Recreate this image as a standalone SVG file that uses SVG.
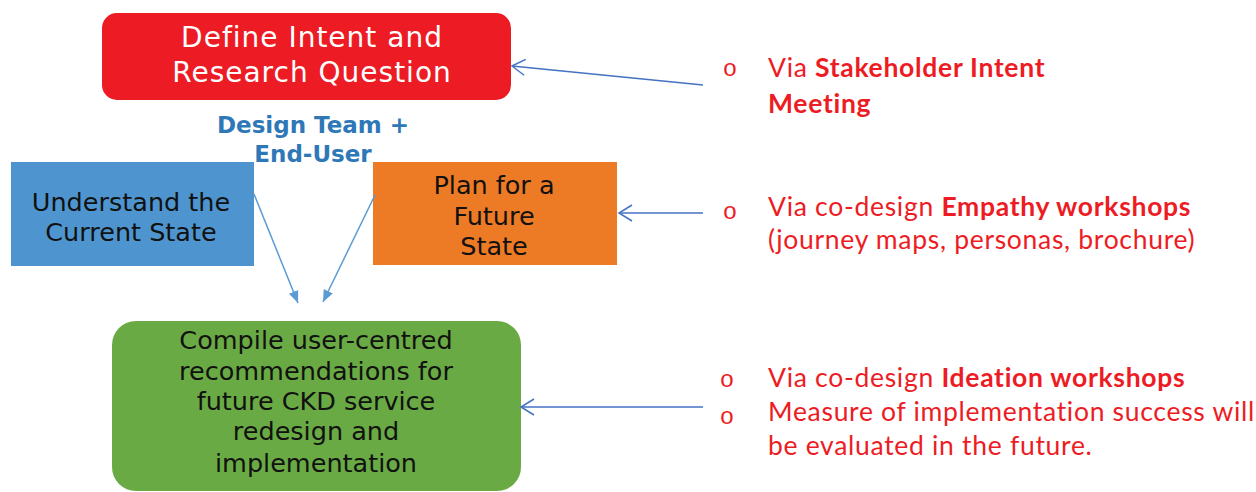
<svg xmlns="http://www.w3.org/2000/svg" width="1256" height="492" viewBox="0 0 1256 492">
  <style>
    .box-label { font-family: "DejaVu Sans", Verdana, sans-serif; font-size: 25.5px; fill: #111111; text-anchor: middle; }
    .title-label { font-family: "DejaVu Sans", Verdana, sans-serif; font-size: 28px; letter-spacing: 1px; fill: #ffffff; text-anchor: middle; }
    .team { font-family: "DejaVu Sans", Verdana, sans-serif; font-size: 23px; font-weight: bold; fill: #2f78b8; text-anchor: middle; }
    .note { font-family: Lato, "Open Sans", sans-serif; font-size: 26.5px; letter-spacing: 0.7px; fill: #ed1c24; }
    .b { font-weight: bold; }
    .bullet { font-family: "Liberation Mono", monospace; font-size: 24px; fill: #ed1c24; text-anchor: middle; }
    .flow { stroke: #5b9bd5; stroke-width: 1.5; fill: none; }
    .feed { stroke: #4472c4; stroke-width: 1.5; fill: none; }
  </style>
  <defs>
    <!-- solid head for the flow into the compile step -->
    <marker id="tri" markerUnits="userSpaceOnUse" viewBox="0 0 12 10" refX="12" refY="5" markerWidth="12" markerHeight="10" orient="auto">
      <path d="M0,0 L12,5 L0,10 z" fill="#5b9bd5"/>
    </marker>
    <!-- open chevron head for the method notes -->
    <marker id="chev" markerUnits="userSpaceOnUse" viewBox="-1 -1 16 18" refX="13" refY="8" markerWidth="16" markerHeight="18" orient="auto" overflow="visible">
      <path d="M0,0 L13,8 L0,16" fill="none" stroke="#4472c4" stroke-width="1.5"/>
    </marker>
  </defs>

  <g id="node-define">
    <rect x="102" y="13" width="409" height="87" rx="15" fill="#ed1c24"/>
    <text class="title-label" x="312" y="47">Define Intent and</text>
    <text class="title-label" x="312" y="82">Research Question</text>
  </g>

  <g id="node-team">
    <text class="team" x="313" y="133">Design Team +</text>
    <text class="team" x="313" y="162">End-User</text>
  </g>

  <g id="node-current">
    <rect x="11" y="162" width="243" height="104" fill="#4e95d0"/>
    <text class="box-label" x="131" y="211">Understand the</text>
    <text class="box-label" x="131" y="241">Current State</text>
  </g>

  <g id="node-future">
    <rect x="373" y="162" width="244" height="103" fill="#ed7a25"/>
    <text class="box-label" x="494" y="194">Plan for a</text>
    <text class="box-label" x="494" y="225">Future</text>
    <text class="box-label" x="494" y="255">State</text>
  </g>

  <g id="node-compile">
    <rect x="112" y="321" width="409" height="170" rx="24" fill="#69aa44"/>
    <text class="box-label" x="316" y="349">Compile user-centred</text>
    <text class="box-label" x="316" y="380">recommendations for</text>
    <text class="box-label" x="316" y="410">future CKD service</text>
    <text class="box-label" x="316" y="440">redesign and</text>
    <text class="box-label" x="316" y="472">implementation</text>
  </g>

  <g id="note-intent">
    <text class="bullet" x="730" y="76">o</text>
    <text class="note" x="768" y="77">Via <tspan class="b">Stakeholder Intent</tspan></text>
    <text class="note b" x="768" y="113">Meeting</text>
  </g>

  <g id="note-empathy">
    <text class="bullet" x="730" y="219">o</text>
    <text class="note" x="768" y="216">Via co-design <tspan class="b">Empathy workshops</tspan></text>
    <text class="note" x="768" y="249">(journey maps, personas, brochure)</text>
  </g>

  <g id="note-ideation">
    <text class="bullet" x="727" y="387">o</text>
    <text class="note" x="768" y="387">Via co-design <tspan class="b">Ideation workshops</tspan></text>
    <text class="bullet" x="727" y="424">o</text>
    <text class="note" x="768" y="421">Measure of implementation success will</text>
    <text class="note" x="768" y="455">be evaluated in the future.</text>
  </g>

  <g id="connectors">
    <line class="flow" x1="254" y1="194" x2="298" y2="303" marker-end="url(#tri)"/>
    <line class="flow" x1="375" y1="195" x2="323" y2="302" marker-end="url(#tri)"/>
    <line class="feed" x1="703" y1="85" x2="512" y2="66" marker-end="url(#chev)"/>
    <line class="feed" x1="703" y1="213" x2="619" y2="213" marker-end="url(#chev)"/>
    <line class="feed" x1="703" y1="407" x2="521" y2="407" marker-end="url(#chev)"/>
  </g>
</svg>
